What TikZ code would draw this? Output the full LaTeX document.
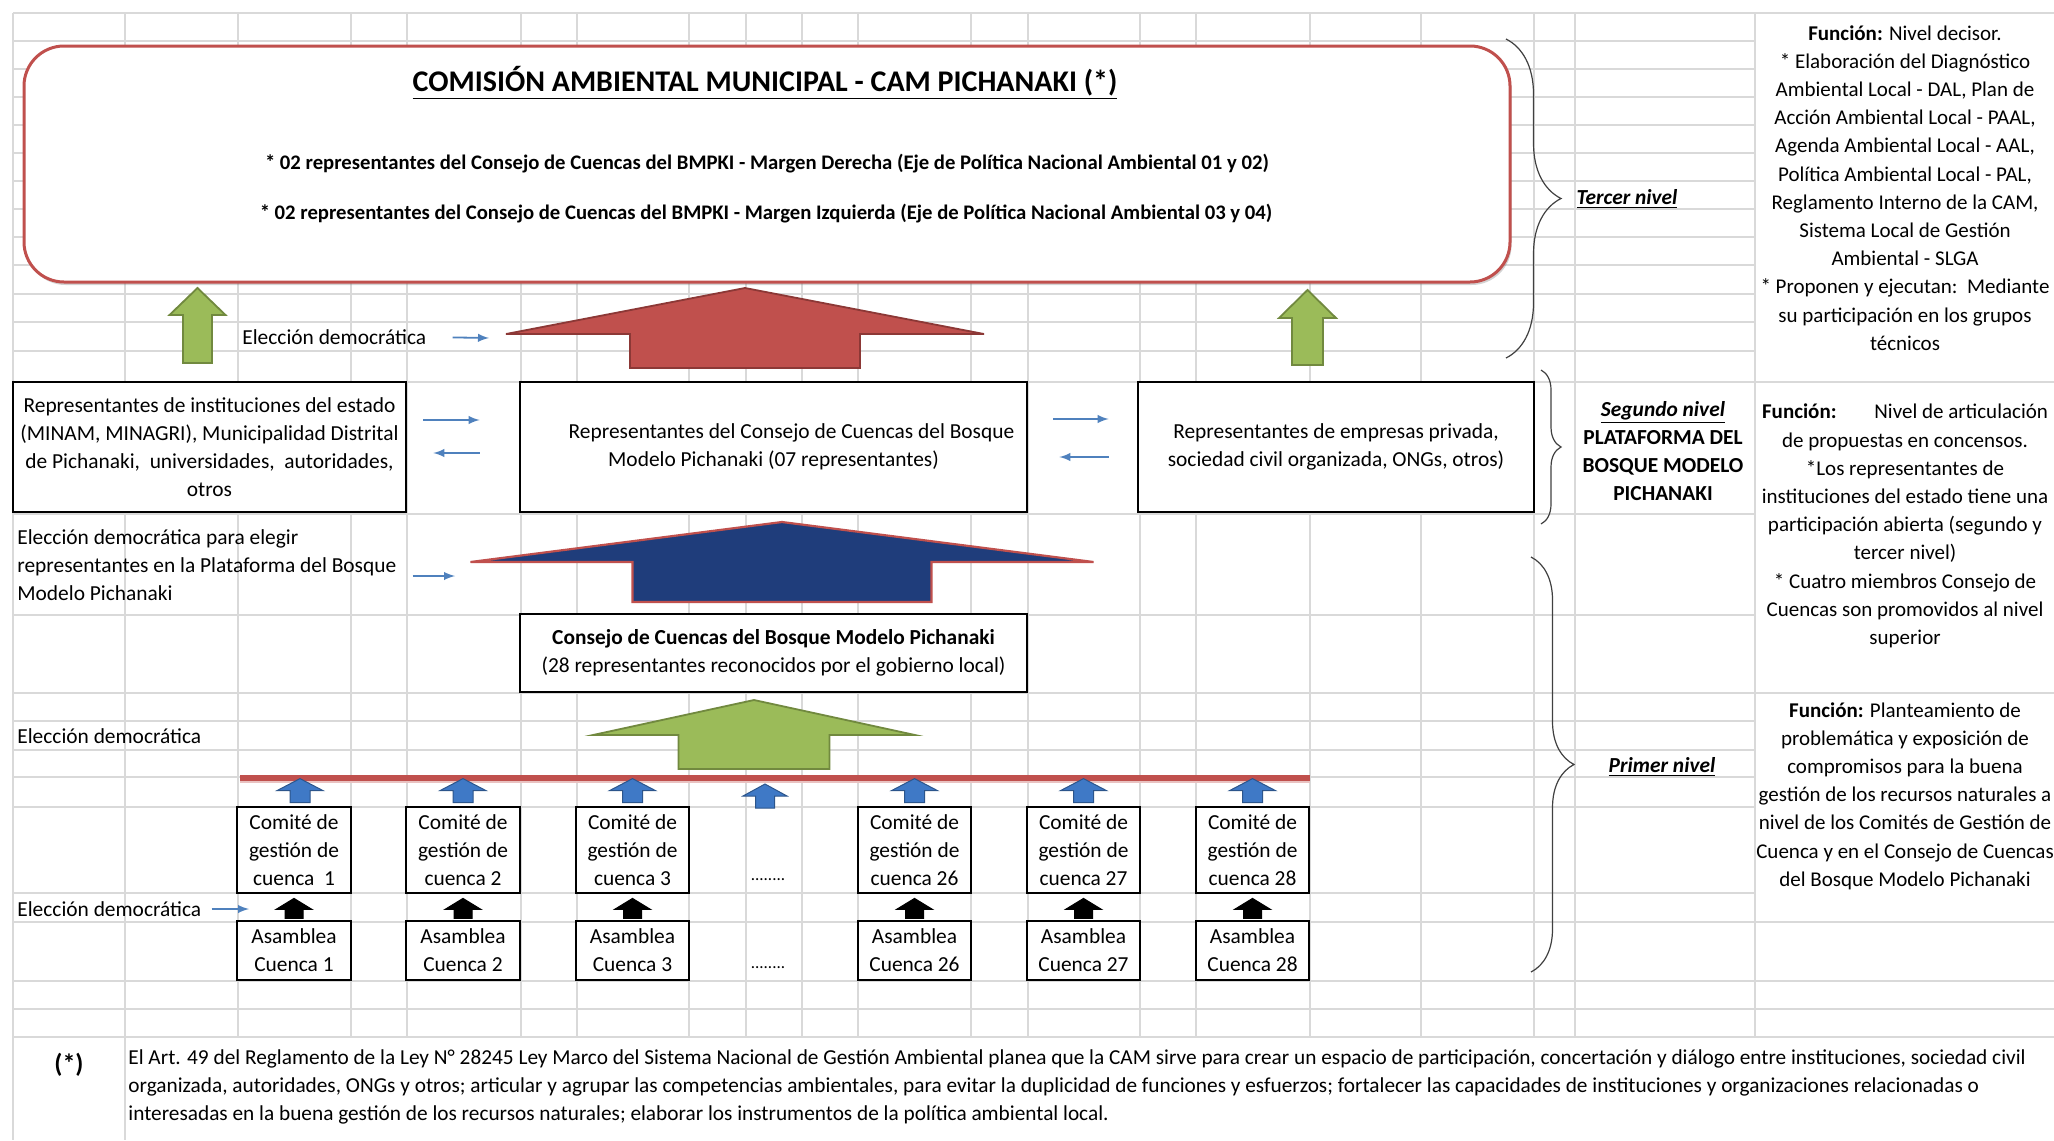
\documentclass[tikz,border=0pt]{standalone}
\usepackage{fontspec}
\setmainfont{Carlito}
\usepackage{xcolor}
\usepackage{tikz}
\usetikzlibrary{decorations}
\usetikzlibrary{decorations.pathreplacing}
\usetikzlibrary{shadows}

\definecolor{camred}{HTML}{C0504D}
\definecolor{camdarkred}{HTML}{8C3836}
\definecolor{olivegreen}{HTML}{9BBB59}
\definecolor{darkolive}{HTML}{71893F}
\definecolor{navyblue}{HTML}{1F3D7B}
\definecolor{lightblue}{HTML}{4F81BD}
\definecolor{cellblue}{HTML}{3F79C6}
\definecolor{gridgray}{HTML}{D9D9D9}

% flecha de bloque: estilo, media cabeza, alto cabeza, medio cuerpo, largo
\newcommand{\uparr}[5]{\draw[#1] (0,0) -- (#2,#3) -- (#4,#3) -- (#4,#5) -- (-#4,#5) -- (-#4,#3) -- (-#2,#3) -- cycle;}

\begin{document}
\begin{tikzpicture}[x=0.5pt,y=-0.5pt,>=latex,
	grid/.style={draw=gridgray,line width=0.7pt},
	box/.style={draw=black,line width=1.4pt,fill=white,inner sep=0pt,align=center,font=\fontsize{10.7}{14}\selectfont},
	lbl/.style={inner sep=0pt,align=left,anchor=west,font=\fontsize{10.7}{14}\selectfont},
	func/.style={inner sep=0pt,align=center,font=\fontsize{10.5}{14.1}\selectfont},
	thinarrow/.style={->,draw=lightblue,line width=0.9pt},
	greenarr/.style={fill=olivegreen,draw=darkolive,line width=0.9pt},
	bluearr/.style={fill=cellblue,draw=cellblue!70!black,line width=0.5pt},
	blackarr/.style={fill=black,draw=black,line width=0.5pt},
	nivel/.style={decorate,decoration={brace},draw=black!75,line width=0.6pt}]
\useasboundingbox (0,0) rectangle (2054,1140);

%cuadricula
\draw[grid] (13,13)--(13,1140) (125,13)--(125,1140) (238,13)--(238,1037) (351,13)--(351,1037)
	(407,13)--(407,1037) (521,13)--(521,1037) (577,13)--(577,1037) (689,13)--(689,1037)
	(746,13)--(746,1037) (802,13)--(802,1037) (858,13)--(858,1037) (971,13)--(971,1037)
	(1028,13)--(1028,1037) (1140,13)--(1140,1037) (1196,13)--(1196,1037) (1310,13)--(1310,1037)
	(1421,13)--(1421,1037) (1534,13)--(1534,1037) (1575,13)--(1575,1037) (1755,13)--(1755,1037);
\draw[grid] (13,13)--(2054,13) (13,41)--(1755,41) (13,69)--(1755,69) (13,97)--(1755,97)
	(13,125)--(1755,125) (13,153)--(1755,153) (13,181)--(1755,181) (13,209)--(1755,209)
	(13,237)--(1755,237) (13,265)--(1755,265) (13,294)--(1755,294) (13,322)--(1755,322)
	(13,351)--(1755,351) (13,382)--(2054,382) (13,514)--(1755,514) (13,615)--(1755,615)
	(13,693)--(2054,693) (13,721)--(1755,721) (13,750)--(1755,750) (13,777)--(1755,777)
	(13,807)--(1755,807) (13,893)--(1755,893) (13,922)--(2054,922) (13,981)--(2054,981)
	(13,1009)--(2054,1009) (13,1037)--(2054,1037);

%Tercer nivel
\node[draw=camred,line width=1.5pt,fill=white,rounded corners=20pt,minimum width=743pt,minimum height=118pt,
	drop shadow={shadow xshift=0.8pt,shadow yshift=-1.5pt,opacity=0.35}] (cam) at (767,164) {};
\node[inner sep=0pt,font=\bfseries\fontsize{15}{18}\selectfont] (camtitle) at (765,83) {\underline{COMISIÓN AMBIENTAL MUNICIPAL - CAM PICHANAKI (*)}};
\node[inner sep=0pt,font=\bfseries\fontsize{10.35}{12}\selectfont] (camder) at (767,164) {* 02 representantes del Consejo de Cuencas del BMPKI - Margen Derecha (Eje de Política Nacional Ambiental 01 y 02)};
\node[inner sep=0pt,font=\bfseries\fontsize{10.35}{12}\selectfont] (camizq) at (766,214) {* 02 representantes del Consejo de Cuencas del BMPKI - Margen Izquierda (Eje de Política Nacional Ambiental 03 y 04)};

\begin{scope}[shift={(197.5,288)}]
	\uparr{greenarr}{28}{27}{14.5}{75}
\end{scope}
\begin{scope}[shift={(1307.5,290)}]
	\uparr{greenarr}{28.5}{28}{15.5}{75}
\end{scope}
\begin{scope}[shift={(745,288)}]
	\uparr{fill=camred,draw=camdarkred,line width=0.9pt}{239}{46}{115}{80}
\end{scope}
\node[lbl] (elec1) at (242,337) {Elección democrática};
\coordinate (elec1tip) at (489,338);
\draw[thinarrow,shorten <=13pt] (elec1.east) -- (elec1tip);

%Segundo nivel
\node[box,minimum width=196.5pt,minimum height=65pt] (inst) at (209.5,447) {Representantes de instituciones del estado\\(MINAM, MINAGRI), Municipalidad Distrital\\de Pichanaki,\ \ universidades,\ \ autoridades,\\otros};
\node[box,minimum width=253.5pt,minimum height=65pt] (plat) at (773.5,447) {\hspace*{18pt}Representantes del Consejo de Cuencas del Bosque\\Modelo Pichanaki (07 representantes)};
\node[box,minimum width=198pt,minimum height=65pt] (priv) at (1336,447) {Representantes de empresas privada,\\sociedad civil organizada, ONGs, otros)};
\draw[thinarrow,shorten <=8pt,shorten >=19.5pt] ([yshift=13.5pt]inst.east) -- ([yshift=13.5pt]plat.west);
\draw[thinarrow,shorten <=19.5pt,shorten >=13pt] ([yshift=-3pt]plat.west) -- ([yshift=-3pt]inst.east);
\draw[thinarrow,shorten <=12.5pt,shorten >=14pt] ([yshift=14pt]plat.east) -- ([yshift=14pt]priv.west);
\draw[thinarrow,shorten <=14pt,shorten >=15.5pt] ([yshift=-5pt]priv.west) -- ([yshift=-5pt]plat.east);

\node[lbl] (elec2) at (17,565) {Elección democrática para elegir\\representantes en la Plataforma del Bosque\\Modelo Pichanaki};
\coordinate (elec2tip) at (455,576);
\draw[thinarrow,shorten <=8pt] (elec2.east |- elec2tip) -- (elec2tip);
\begin{scope}[shift={(782,522)}]
	\uparr{fill=navyblue,draw=camred,line width=1.1pt}{311.5}{40}{149.5}{80}
\end{scope}

%Primer nivel
\node[box,minimum width=253.5pt,minimum height=39pt] (consejo) at (773.5,653) {\textbf{Consejo de Cuencas del Bosque Modelo Pichanaki}\\(28 representantes reconocidos por el gobierno local)};
\node[lbl] (elec3) at (17,736) {Elección democrática};
\begin{scope}[shift={(754,700)}]
	\uparr{greenarr}{161}{35}{75.5}{69}
\end{scope}
\coordinate (lineaA) at (240,778);
\coordinate (lineaB) at (1310,778);
\draw[line width=2.6pt,camred!35] ([yshift=-1.2pt]lineaA) -- ([yshift=-1.2pt]lineaB);
\draw[line width=2.6pt,camred] (lineaA) -- (lineaB);

\node[box,minimum width=57pt,minimum height=43pt] (com1) at (294,850) {Comité de\\gestión de\\cuenca\ \ 1};
\node[box,minimum width=57pt,minimum height=43pt] (com2) at (463,850) {Comité de\\gestión de\\cuenca 2};
\node[box,minimum width=56.5pt,minimum height=43pt] (com3) at (632.5,850) {Comité de\\gestión de\\cuenca 3};
\node[box,minimum width=56.5pt,minimum height=43pt] (com26) at (914.5,850) {Comité de\\gestión de\\cuenca 26};
\node[box,minimum width=56.5pt,minimum height=43pt] (com27) at (1083.5,850) {Comité de\\gestión de\\cuenca 27};
\node[box,minimum width=56.5pt,minimum height=43pt] (com28) at (1252.5,850) {Comité de\\gestión de\\cuenca 28};
\node[inner sep=0pt,font=\fontsize{8.5}{10}\selectfont] (dots1) at (768,880) {........};

\node[box,minimum width=57pt,minimum height=29.5pt] (asa1) at (294,950.5) {Asamblea\\Cuenca 1};
\node[box,minimum width=57pt,minimum height=29.5pt] (asa2) at (463,950.5) {Asamblea\\Cuenca 2};
\node[box,minimum width=56.5pt,minimum height=29.5pt] (asa3) at (632.5,950.5) {Asamblea\\Cuenca 3};
\node[box,minimum width=56.5pt,minimum height=29.5pt] (asa26) at (914.5,950.5) {Asamblea\\Cuenca 26};
\node[box,minimum width=56.5pt,minimum height=29.5pt] (asa27) at (1083.5,950.5) {Asamblea\\Cuenca 27};
\node[box,minimum width=56.5pt,minimum height=29.5pt] (asa28) at (1252.5,950.5) {Asamblea\\Cuenca 28};
\node[inner sep=0pt,font=\fontsize{8.5}{10}\selectfont] (dots2) at (768,968) {........};

%flechas azules hacia la linea
\begin{scope}[shift={(com1.north)},xshift=3pt,yshift=13.5pt] \uparr{bluearr}{23}{12}{10}{24} \end{scope}
\begin{scope}[shift={(com2.north)},yshift=13.5pt] \uparr{bluearr}{23}{12}{10}{24} \end{scope}
\begin{scope}[shift={(com3.north)},yshift=13.5pt] \uparr{bluearr}{23}{12}{10}{24} \end{scope}
\begin{scope}[shift={(765,784)}] \uparr{bluearr}{22}{12}{9.5}{24} \end{scope}
\begin{scope}[shift={(com26.north)},yshift=13.5pt] \uparr{bluearr}{23}{12}{10}{24} \end{scope}
\begin{scope}[shift={(com27.north)},yshift=13.5pt] \uparr{bluearr}{23}{12}{10}{24} \end{scope}
\begin{scope}[shift={(com28.north)},yshift=13.5pt] \uparr{bluearr}{23}{12}{10}{24} \end{scope}

%flechas negras asamblea -> comite
\begin{scope}[shift={(com1.south)},yshift=-2pt] \uparr{blackarr}{18}{11}{9}{20} \end{scope}
\begin{scope}[shift={(com2.south)},yshift=-2pt] \uparr{blackarr}{18}{11}{9}{20} \end{scope}
\begin{scope}[shift={(com3.south)},yshift=-2pt] \uparr{blackarr}{18}{11}{9}{20} \end{scope}
\begin{scope}[shift={(com26.south)},yshift=-2pt] \uparr{blackarr}{18}{11}{9}{20} \end{scope}
\begin{scope}[shift={(com27.south)},yshift=-2pt] \uparr{blackarr}{18}{11}{9}{20} \end{scope}
\begin{scope}[shift={(com28.south)},yshift=-2pt] \uparr{blackarr}{18}{11}{9}{20} \end{scope}

\node[lbl] (elec4) at (17,909) {Elección democrática};
\coordinate (elec4tip) at (249,909);
\draw[thinarrow,shorten <=5pt] (elec4.east) -- (elec4tip);

%llaves de niveles
\coordinate (tercA) at (1506,39);
\coordinate (tercB) at (1506,358);
\draw[nivel,decoration={amplitude=27.5pt}] (tercA) -- (tercB);
\node[inner sep=0pt,font=\bfseries\itshape\fontsize{10.7}{14}\selectfont] (tercer) at (1627,199) {\underline{Tercer nivel}};
\coordinate (segA) at (1541,370);
\coordinate (segB) at (1541,524);
\draw[nivel,decoration={amplitude=10pt}] (segA) -- (segB);
\node[func,font=\bfseries\fontsize{10.7}{14}\selectfont] (segundo) at (1663,451) {\underline{\textit{Segundo nivel}}\\PLATAFORMA DEL\\BOSQUE MODELO\\PICHANAKI};
\coordinate (primA) at (1531,557);
\coordinate (primB) at (1531,972);
\draw[nivel,decoration={amplitude=21.5pt}] (primA) -- (primB);
\node[inner sep=0pt,font=\bfseries\itshape\fontsize{10.7}{14}\selectfont] (primer) at (1662,767) {\underline{Primer nivel}};

%funciones
\node[func] (func3) at (1905,188) {\textbf{Función:} Nivel decisor.\\* Elaboración del Diagnóstico\\Ambiental Local - DAL, Plan de\\Acción Ambiental Local - PAAL,\\Agenda Ambiental Local - AAL,\\Política Ambiental Local - PAL,\\Reglamento Interno de la CAM,\\Sistema Local de Gestión\\Ambiental - SLGA\\* Proponen y ejecutan:\ \ Mediante\\su participación en los grupos\\técnicos};
\node[func] (func2) at (1905,526) {\textbf{Función:}\hspace{1.8em}Nivel de articulación\\de propuestas en concensos.\\*Los representantes de\\instituciones del estado tiene una\\participación abierta (segundo y\\tercer nivel)\\* Cuatro miembros Consejo de\\Cuencas son promovidos al nivel\\superior};
\node[func] (func1) at (1905,796) {\textbf{Función:} Planteamiento de\\problemática y exposición de\\compromisos para la buena\\gestión de los recursos naturales a\\nivel de los Comités de Gestión de\\Cuenca y en el Consejo de Cuencas\\del Bosque Modelo Pichanaki};

%nota
\node[inner sep=0pt,font=\bfseries\fontsize{13}{15}\selectfont] (nota) at (69,1065) {(*)};
\node[inner sep=0pt,align=left,anchor=north west,font=\fontsize{10.65}{14}\selectfont] (notatxt) at (128,1049) {El Art. 49 del Reglamento de la Ley N° 28245 Ley Marco del Sistema Nacional de Gestión Ambiental planea que la CAM sirve para crear un espacio de participación, concertación y diálogo entre instituciones, sociedad civil\\organizada, autoridades, ONGs y otros; articular y agrupar las competencias ambientales, para evitar la duplicidad de funciones y esfuerzos; fortalecer las capacidades de instituciones y organizaciones relacionadas o\\interesadas en la buena gestión de los recursos naturales; elaborar los instrumentos de la política ambiental local.};

\end{tikzpicture}
\end{document}
